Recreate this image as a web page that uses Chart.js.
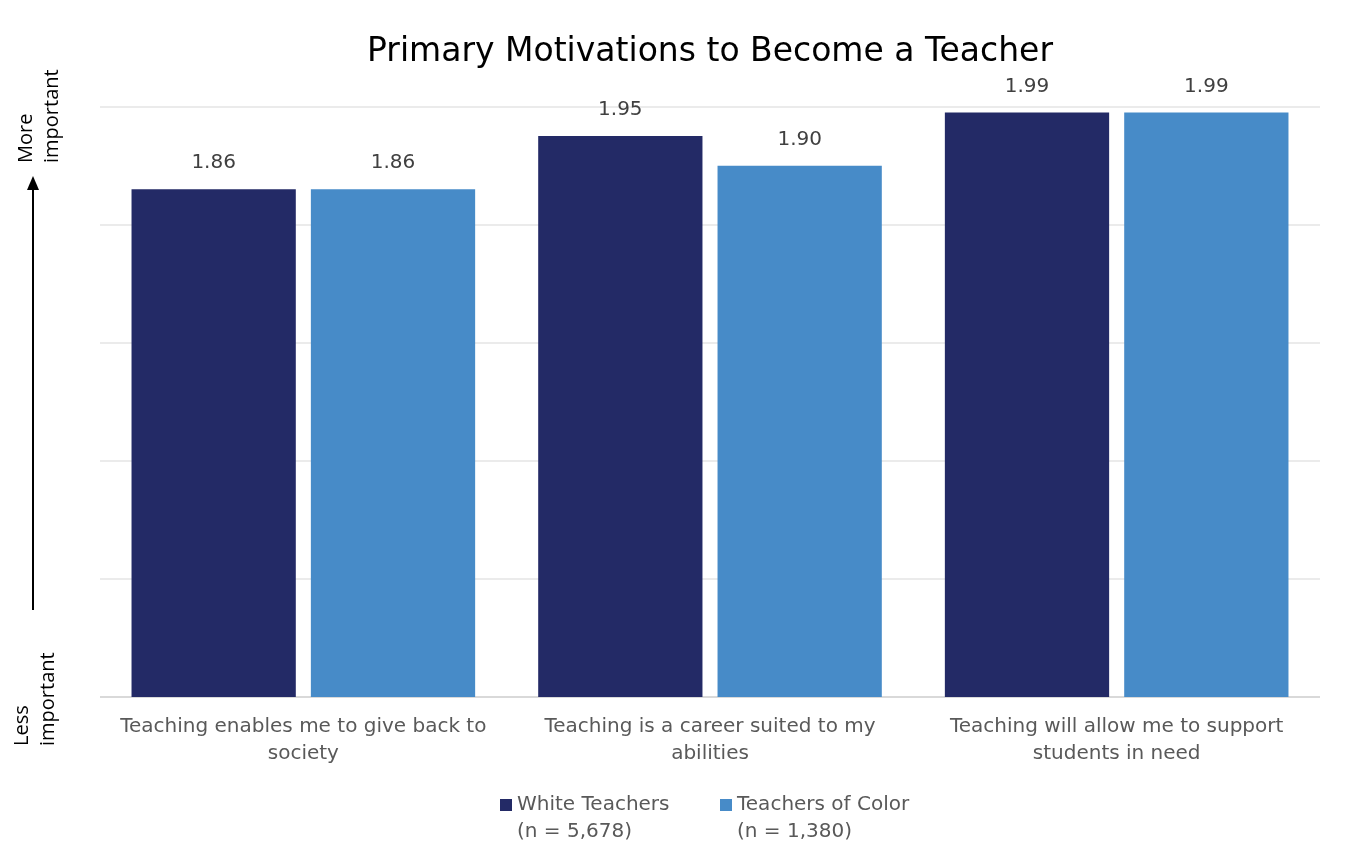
<!DOCTYPE html>
<html>
<head>
<meta charset="utf-8">
<script src="https://cdn.jsdelivr.net/npm/chart.js@4"></script>
<style>
  html, body { margin: 0; padding: 0; background: #fff; }
  #wrap { width: 1349px; height: 867px; position: relative; }
</style>
</head>
<body>
<div id="wrap"><canvas id="chart" width="1349" height="867"></canvas></div>
<script>
// datos del gráfico
const categories = [
  ['Teaching enables me to give back to', 'society'],
  ['Teaching is a career suited to my', 'abilities'],
  ['Teaching will allow me to support', 'students in need']
];
const whiteTeachers = [1.86, 1.95, 1.99];
const teachersOfColor = [1.86, 1.90, 1.99];
const seriesNames = [['White Teachers', '(n = 5,678)'], ['Teachers of Color', '(n = 1,380)']];
const seriesColors = ['#232a66', '#478bc8'];

const FONT = '"DejaVu Sans", Verdana, sans-serif';

// etiquetas de valor encima de cada barra
const valueLabels = {
  id: 'valueLabels',
  afterDatasetsDraw(chart) {
    const ctx = chart.ctx;
    ctx.save();
    ctx.font = '20px ' + FONT;
    ctx.fillStyle = '#404040';
    ctx.textAlign = 'center';
    ctx.textBaseline = 'middle';
    chart.data.datasets.forEach((ds, i) => {
      chart.getDatasetMeta(i).data.forEach((bar, j) => {
        ctx.fillText(ds.data[j].toFixed(2), bar.x, bar.y - 26);
      });
    });
    ctx.restore();
  }
};

// flecha lateral y leyenda de dos líneas
const sideArrow = {
  id: 'sideArrow',
  afterDraw(chart) {
    const ctx = chart.ctx;
    ctx.save();
    // flecha
    ctx.strokeStyle = '#000';
    ctx.fillStyle = '#000';
    ctx.lineWidth = 2;
    ctx.beginPath();
    ctx.moveTo(33, 610);
    ctx.lineTo(33, 188);
    ctx.stroke();
    ctx.beginPath();
    ctx.moveTo(33, 176);
    ctx.lineTo(27, 190);
    ctx.lineTo(39, 190);
    ctx.closePath();
    ctx.fill();

    ctx.font = '20px "Open Sans", sans-serif';
    ctx.textBaseline = 'middle';
    ctx.textAlign = 'left';
    const rot = (x, y, lines) => {
      ctx.save();
      ctx.translate(x, y);
      ctx.rotate(-Math.PI / 2);
      lines.forEach((t, k) => ctx.fillText(t, 0, k * 26));
      ctx.restore();
    };
    rot(26, 163, ['More', 'important']);
    rot(22, 746, ['Less', 'important']);

    // leyenda
    ctx.font = '20px ' + FONT;
    ctx.textAlign = 'left';
    const items = [{x: 500}, {x: 720}];
    items.forEach((it, i) => {
      ctx.fillStyle = seriesColors[i];
      ctx.fillRect(it.x, 799, 12, 12);
      ctx.fillStyle = '#595959';
      ctx.fillText(seriesNames[i][0], it.x + 17, 805);
      ctx.fillText(seriesNames[i][1], it.x + 17, 832);
    });
    ctx.restore();
  }
};

new Chart(document.getElementById('chart'), {
  type: 'bar',
  data: {
    labels: categories,
    datasets: [
      { label: seriesNames[0].join(' '), data: whiteTeachers, backgroundColor: seriesColors[0] },
      { label: seriesNames[1].join(' '), data: teachersOfColor, backgroundColor: seriesColors[1] }
    ]
  },
  options: {
    responsive: false,
    animation: false,
    layout: { padding: { left: 100, right: 29, top: 0, bottom: 92 } },
    categoryPercentage: 0.882,
    barPercentage: 0.916,
    plugins: {
      legend: { display: false },
      tooltip: { enabled: false },
      title: {
        display: true,
        text: 'Primary Motivations to Become a Teacher',
        color: '#000',
        font: { family: FONT, size: 33, weight: 'normal' },
        padding: { top: 33, bottom: 34 }
      }
    },
    scales: {
      x: {
        grid: { display: false },
        border: { display: false },
        ticks: {
          color: '#595959',
          font: { family: FONT, size: 20, lineHeight: 1.35 },
          padding: 8,
          maxRotation: 0,
          autoSkip: false
        }
      },
      y: {
        min: 1,
        max: 2,
        ticks: { display: false, stepSize: 0.2 },
        border: { display: false },
        grid: {
          color: c => c.tick.value === 1 ? '#d9d9d9' : '#ebebeb',
          lineWidth: 2,
          drawTicks: false
        },
        afterFit: s => { s.width = 0; }
      }
    }
  },
  plugins: [valueLabels, sideArrow]
});
</script>
</body>
</html>
